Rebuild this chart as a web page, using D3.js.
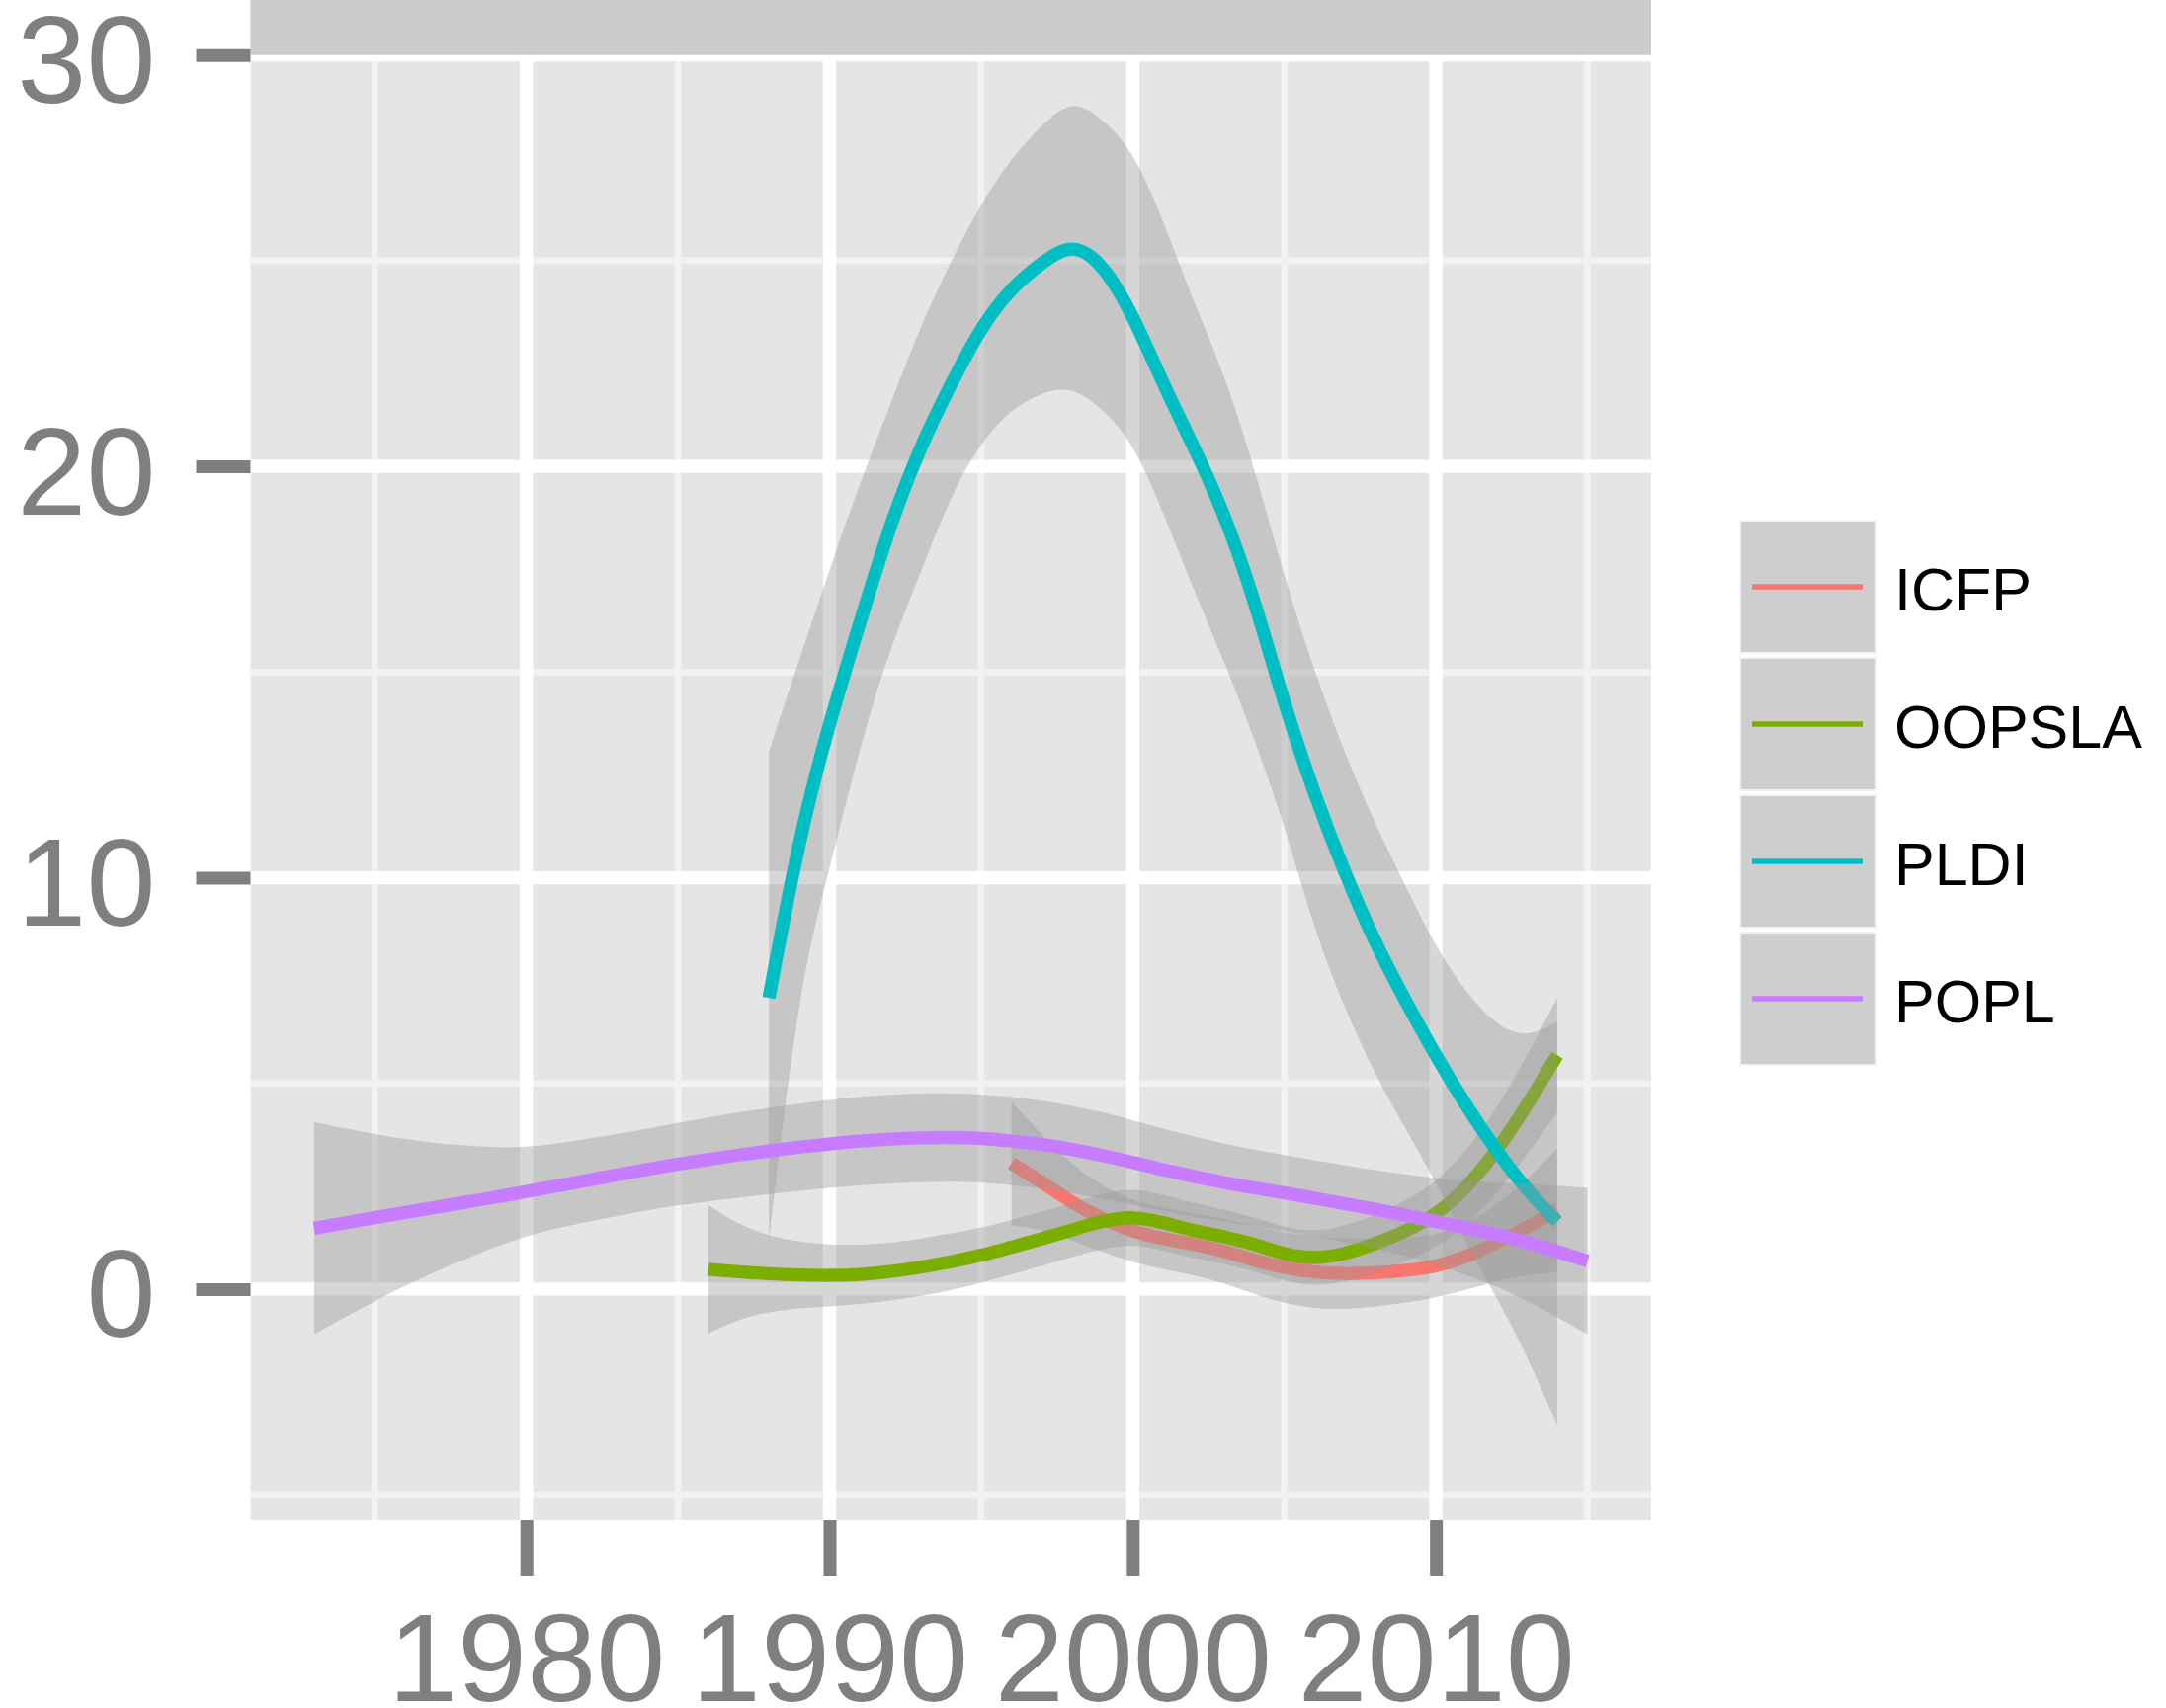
<!DOCTYPE html>
<html>
<head>
<meta charset="utf-8">
<script src="https://cdn.jsdelivr.net/npm/d3@7"></script>
<style>
  html, body { margin: 0; padding: 0; background: #ffffff; }
  svg { display: block; }
  text { font-family: "Liberation Sans", Arial, Helvetica, sans-serif; }
</style>
</head>
<body>
<svg id="chart" width="2192" height="1729"></svg>
<script>
// ---- data: loess fits with confidence bands, one set per conference ----
const conferences = ["ICFP", "OOPSLA", "PLDI", "POPL"];
const seriesColors = ["#F8766D", "#7CAE00", "#00BFC4", "#C77CFF"];

const icfpYears = [1996,1997,1998,1999,2000,2001,2002,2003,2004,2005,2006,2007,2008,2009,2010,2011,2012,2013,2014];
const icfpFit   = [3.06,2.60,2.10,1.70,1.40,1.22,1.10,0.93,0.70,0.52,0.40,0.37,0.39,0.45,0.55,0.78,1.12,1.50,1.92];
const icfpBand  = [1.50,1.15,0.92,0.80,0.75,0.74,0.75,0.78,0.82,0.86,0.88,0.86,0.82,0.78,0.76,0.80,0.92,1.15,1.50];

const oopslaYears = [1986,1987,1988,1989,1990,1991,1992,1993,1994,1995,1996,1997,1998,1999,2000,2001,2002,2003,2004,2005,2006,2007,2008,2009,2010,2011,2012,2013,2014];
const oopslaFit   = [0.48,0.42,0.37,0.34,0.33,0.35,0.42,0.53,0.66,0.82,1.02,1.22,1.44,1.66,1.78,1.62,1.42,1.28,1.10,0.84,0.73,0.85,1.10,1.40,1.80,2.45,3.35,4.45,5.69];
const oopslaBand  = [1.56,1.15,0.92,0.80,0.75,0.72,0.70,0.70,0.69,0.67,0.66,0.66,0.66,0.67,0.68,0.68,0.67,0.66,0.65,0.65,0.66,0.68,0.70,0.74,0.80,0.90,1.03,1.20,1.40];

const pldiYears = [1988,1989,1990,1991,1992,1993,1994,1995,1996,1997,1998,1999,2000,2001,2002,2003,2004,2005,2006,2007,2008,2009,2010,2011,2012,2013,2014];
const pldiFit   = [7.08,11.0,13.8,16.2,18.6,20.5,22.0,23.4,24.35,24.95,25.45,24.95,23.7,22.0,20.5,18.9,16.8,14.2,12.0,10.1,8.4,7.0,5.66,4.45,3.35,2.4,1.64];
const pldiLower = [1.2,7.4,10.2,13.2,15.6,17.4,19.3,20.6,21.4,21.8,21.95,21.4,20.6,18.9,17.0,15.3,13.4,11.3,8.7,6.8,5.2,3.9,2.6,1.1,-0.2,-1.6,-3.3];
const pldiUpper = [13.07,15.3,17.5,19.6,21.5,23.4,25.0,26.4,27.5,28.3,28.95,28.45,27.7,26.0,24.0,22.3,20.0,17.3,15.0,13.0,11.3,9.8,8.3,7.2,6.4,6.1,6.5];

const poplYears = [1973,1974,1975,1976,1977,1978,1979,1980,1981,1982,1983,1984,1985,1986,1987,1988,1989,1990,1991,1992,1993,1994,1995,1996,1997,1998,1999,2000,2001,2002,2003,2004,2005,2006,2007,2008,2009,2010,2011,2012,2013,2014,2015];
const poplFit   = [1.48,1.61,1.74,1.86,1.99,2.11,2.24,2.37,2.51,2.64,2.78,2.91,3.04,3.15,3.26,3.36,3.45,3.53,3.60,3.65,3.68,3.69,3.67,3.60,3.52,3.40,3.25,3.08,2.90,2.74,2.59,2.46,2.34,2.21,2.08,1.94,1.80,1.64,1.49,1.33,1.14,0.92,0.68];
const poplBand  = [2.58,2.30,2.03,1.78,1.56,1.38,1.20,1.08,1.03,1.01,1.00,0.99,1.00,1.02,1.04,1.05,1.06,1.07,1.08,1.08,1.08,1.07,1.07,1.07,1.07,1.06,1.05,1.03,1.00,0.97,0.95,0.93,0.92,0.92,0.93,0.95,0.99,1.05,1.14,1.26,1.42,1.60,1.78];

const xTickValues = [1980, 1990, 2000, 2010];
const xMinorValues = [1975, 1985, 1995, 2005, 2015];
const yTickValues = [0, 10, 20, 30];
const yMinorValues = [-5, 5, 15, 25];

// ---- assemble rows ----
function rows(years, fit, lower, upper) {
  return years.map((yr, i) => ({ year: yr, fit: fit[i], lo: lower[i], hi: upper[i] }));
}
const series = [
  { name: "ICFP",   rows: rows(icfpYears, icfpFit, icfpFit.map((f, i) => f - icfpBand[i]), icfpFit.map((f, i) => f + icfpBand[i])) },
  { name: "OOPSLA", rows: rows(oopslaYears, oopslaFit, oopslaFit.map((f, i) => f - oopslaBand[i]), oopslaFit.map((f, i) => f + oopslaBand[i])) },
  { name: "PLDI",   rows: rows(pldiYears, pldiFit, pldiLower, pldiUpper) },
  { name: "POPL",   rows: rows(poplYears, poplFit, poplFit.map((f, i) => f - poplBand[i]), poplFit.map((f, i) => f + poplBand[i])) }
];

// ---- layout ----
const panel = { left: 253.5, right: 1671, top: 55.7, bottom: 1539 };
const svg = d3.select("#chart");

const x = d3.scaleLinear().domain([1970.9, 2017.1]).range([panel.left, panel.right]);
const y = d3.scaleLinear().domain([-5.62, 30.0]).range([panel.bottom, panel.top]);
const color = d3.scaleOrdinal().domain(conferences).range(seriesColors);

// panel background
svg.append("rect")
  .attr("x", panel.left).attr("y", panel.top)
  .attr("width", panel.right - panel.left).attr("height", panel.bottom - panel.top)
  .attr("fill", "#E5E5E5");

svg.append("defs").append("clipPath").attr("id", "panel-clip")
  .append("rect")
  .attr("x", panel.left).attr("y", panel.top)
  .attr("width", panel.right - panel.left).attr("height", panel.bottom - panel.top);

const grid = svg.append("g").attr("clip-path", "url(#panel-clip)");

// minor grid
grid.selectAll("line.vminor").data(xMinorValues).join("line")
  .attr("x1", d => x(d)).attr("x2", d => x(d))
  .attr("y1", panel.top).attr("y2", panel.bottom)
  .attr("stroke", "#F2F2F2").attr("stroke-width", 6.7);
grid.selectAll("line.hminor").data(yMinorValues).join("line")
  .attr("y1", d => y(d)).attr("y2", d => y(d))
  .attr("x1", panel.left).attr("x2", panel.right)
  .attr("stroke", "#F2F2F2").attr("stroke-width", 6.7);
// major grid
grid.selectAll("line.vmajor").data(xTickValues).join("line")
  .attr("x1", d => x(d)).attr("x2", d => x(d))
  .attr("y1", panel.top).attr("y2", panel.bottom)
  .attr("stroke", "#FFFFFF").attr("stroke-width", 13.3);
grid.selectAll("line.hmajor").data(yTickValues).join("line")
  .attr("y1", d => y(d)).attr("y2", d => y(d))
  .attr("x1", panel.left).attr("x2", panel.right)
  .attr("stroke", "#FFFFFF").attr("stroke-width", 13.3);

// smooths: band then line, conference by conference
const curve = d3.curveBasis;
const area = d3.area().x(d => x(d.year)).y0(d => y(d.lo)).y1(d => y(d.hi)).curve(curve);
const line = d3.line().x(d => x(d.year)).y(d => y(d.fit)).curve(curve);

const marks = svg.append("g").attr("clip-path", "url(#panel-clip)");
series.forEach(s => {
  marks.append("path").datum(s.rows)
    .attr("d", area)
    .attr("fill", "#999999").attr("fill-opacity", 0.4);
  marks.append("path").datum(s.rows)
    .attr("d", line)
    .attr("fill", "none")
    .attr("stroke", color(s.name))
    .attr("stroke-width", 13.3)
    .attr("stroke-linecap", "butt")
    .attr("stroke-linejoin", "round");
});

// facet strip above the panel
svg.append("rect")
  .attr("x", panel.left).attr("y", 0)
  .attr("width", panel.right - panel.left).attr("height", panel.top)
  .attr("fill", "#CCCCCC");

// axes
const axisColor = "#7F7F7F";
const yAxis = svg.append("g")
  .attr("transform", `translate(${panel.left},0)`)
  .call(d3.axisLeft(y).tickValues(yTickValues).tickSize(55).tickPadding(41).tickFormat(d3.format("d")));
const xAxis = svg.append("g")
  .attr("transform", `translate(0,${panel.bottom})`)
  .call(d3.axisBottom(x).tickValues(xTickValues).tickSize(56).tickPadding(38).tickFormat(d3.format("d")));

[xAxis, yAxis].forEach(g => {
  g.select(".domain").remove();
  g.selectAll(".tick line").attr("stroke", axisColor).attr("stroke-width", 13);
  g.selectAll(".tick text")
    .attr("fill", axisColor)
    .attr("font-size", 126)
    .style("font-family", '"Liberation Sans", Arial, Helvetica, sans-serif');
});
yAxis.selectAll(".tick text").attr("dy", "0.38em");

// legend
const legend = svg.append("g");
const keyX = 1760, keyW = 140, keyTop = 526, keyPitch = 139, keyH = 136;
conferences.forEach((name, i) => {
  const top = keyTop + i * keyPitch;
  const cy = top + keyH / 2;
  legend.append("rect")
    .attr("x", keyX).attr("y", top).attr("width", keyW).attr("height", keyH)
    .attr("fill", "#F2F2F2");
  legend.append("rect")
    .attr("x", keyX + 2).attr("y", top + 2).attr("width", keyW - 4).attr("height", keyH - 4)
    .attr("fill", "#999999").attr("fill-opacity", 0.4);
  legend.append("line")
    .attr("x1", keyX + 13).attr("x2", keyX + 125)
    .attr("y1", cy).attr("y2", cy)
    .attr("stroke", color(name)).attr("stroke-width", 5.7);
  legend.append("text")
    .attr("x", keyX + 157).attr("y", cy + 24)
    .attr("font-size", 61)
    .attr("fill", "#000000")
    .text(name);
});
</script>
</body>
</html>
